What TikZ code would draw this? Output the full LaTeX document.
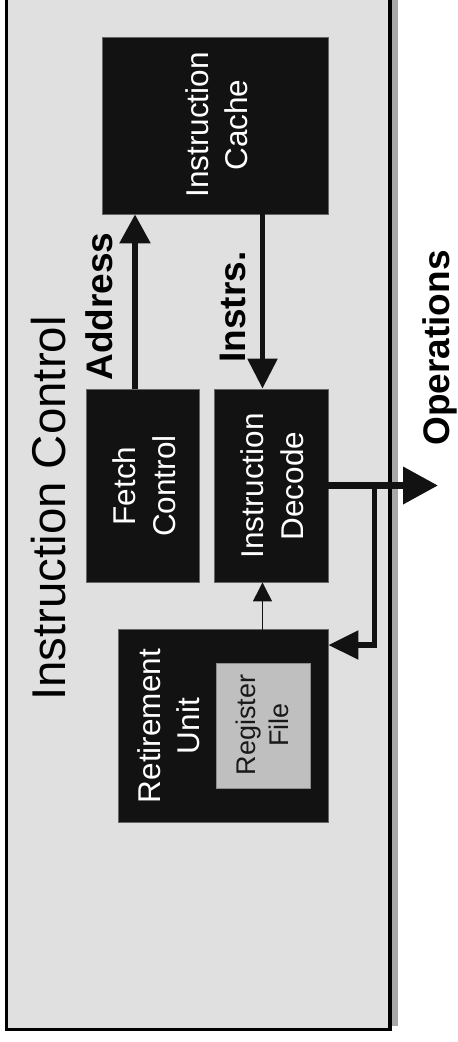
\documentclass[tikz,border=0pt]{standalone}
\usepackage{fontspec}
\setmainfont{Liberation Sans}
\usetikzlibrary{arrows.meta}
\begin{document}
\begin{tikzpicture}[x=1pt,y=-1pt,
  unit/.style={draw=black!60, line width=0.8pt, fill=black!93, inner sep=0pt},
  regbox/.style={draw=black!45, line width=0.8pt, fill=black!25, inner sep=0pt},
  unittext/.style={text=white, rotate=90, align=center, inner sep=0pt,
    font=\fontsize{31.5}{39.5}\selectfont},
  regtext/.style={text=black!90, rotate=90, align=center, inner sep=0pt,
    font=\fontsize{27}{33}\selectfont},
  flowlabel/.style={rotate=90, anchor=base, inner sep=0pt,
    font=\bfseries\fontsize{37}{44}\selectfont},
  titletext/.style={rotate=90, anchor=base, inner sep=0pt,
    font=\fontsize{47.4}{56}\selectfont},
  bus/.style={draw=black!93, line width=5.5pt},
  wire/.style={draw=black!93, line width=1pt},
]
\useasboundingbox (0,0) rectangle (458,1042);

% drop shadow and enclosing block
\fill[black!34] (14,-30) rectangle (398,1025.7);
\node[draw=black, line width=3.5pt, fill=black!12, inner sep=0pt,
      minimum width=383.5pt, minimum height=1049.5pt] (ctrl) at (198.25,504.75) {};
\node[titletext] (title) at (65,508.5) {Instruction Control};

% functional units
\node[unit, minimum width=226pt, minimum height=177pt] (cache)   at (215,125.5) {};
\node[unit, minimum width=113pt, minimum height=193pt] (fetch)   at (142.5,485.5) {};
\node[unit, minimum width=114pt, minimum height=193pt] (decode)  at (271,485.5) {};
\node[unit, minimum width=210pt, minimum height=193pt] (retire)  at (223,725.5) {};
\node[regbox, minimum width=94pt, minimum height=125pt] (regfile) at (263,725.5) {};

\node[unittext] (cachetxt)  at (216.5,125) {Instruction\\Cache};
\node[unittext] (fetchtxt)  at (144,486) {Fetch\\Control};
\node[unittext] (decodetxt) at (272,486) {Instruction\\Decode};
\node[unittext] (retiretxt) at (168.5,726) {Retirement\\Unit};
\node[regtext]  (regtxt)    at (262.5,725) {Register\\File};

% connector routing points
\coordinate (ax) at (135,0);
\coordinate (ix) at (262.5,0);
\coordinate (opend) at (438,485.5);
\coordinate (split) at (374.5,485.5);
\coordinate (fb) at (0,645);

% data paths
\draw[wire, -{Triangle[length=19pt,width=19pt]}] (regfile.north -| ix) -- (decode.south -| ix);
\draw[bus, -{Triangle[length=29pt,width=30pt]}] (fetch.north -| ax) -- (cache.south -| ax);
\draw[bus, -{Triangle[length=30pt,width=29pt]}] (cache.south -| ix) -- (decode.north -| ix);
\draw[bus, line width=7pt, -{Triangle[length=35pt,width=36pt]}] (decode.east) -- (opend);
\draw[bus, line join=miter, -{Triangle[length=30pt,width=28pt]}] (split) |- (retire.east |- fb);

% path labels
\node[flowlabel] (addr)  at (112,306.5) {Address};
\node[flowlabel] (instr) at (245,307) {Instrs.};
\node[flowlabel] (ops)   at (449,348) {Operations};
\end{tikzpicture}
\end{document}
